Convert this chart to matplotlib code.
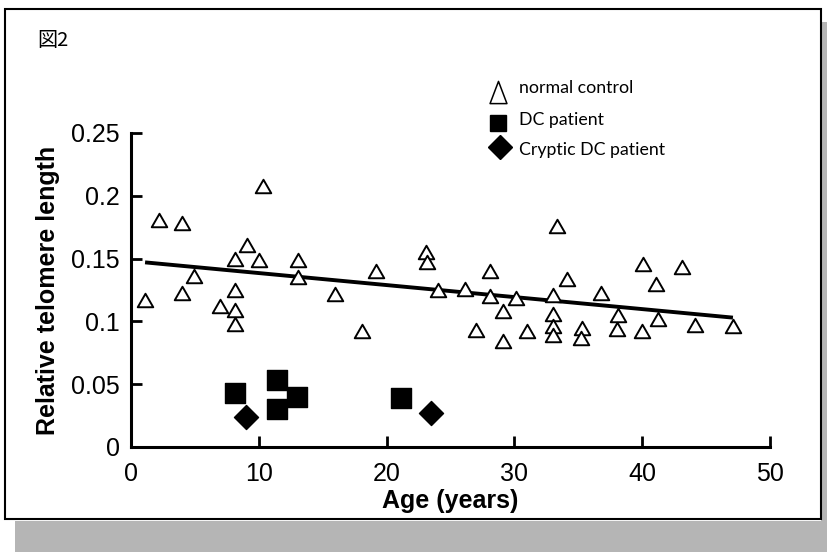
import matplotlib
matplotlib.use("Agg")
import matplotlib.pyplot as plt
from matplotlib.lines import Line2D
from matplotlib.patches import Rectangle
from matplotlib.path import Path
from matplotlib import font_manager

names = {f.name for f in font_manager.fontManager.ttflist}
NARROW = "Liberation Sans Narrow" if "Liberation Sans Narrow" in names else "Liberation Sans"
LEG = "Lato"

# ---- data ----
control_age = [1.1, 2.2, 4.0, 4.0, 4.9, 7.0, 8.1, 8.1, 8.1, 8.1, 9.1, 10.0, 10.3,
               13.1, 13.1, 16.0, 18.1, 19.2,
               23.1, 23.2, 24.0, 26.1, 27.0, 28.1, 28.1, 30.1, 29.1, 29.1, 31.0,
               33.3, 33.0, 33.0, 33.0, 33.0, 34.1, 35.3, 35.2, 36.8, 38.1, 38.0,
               40.1, 40.0, 41.1, 41.2, 43.1, 44.1, 47.1]
control_rtl = [0.117, 0.181, 0.178, 0.123, 0.136, 0.112, 0.150, 0.125, 0.109, 0.098,
               0.161, 0.149, 0.208, 0.149, 0.135, 0.122, 0.092, 0.140,
               0.155, 0.147, 0.125, 0.126, 0.093, 0.140, 0.120, 0.119, 0.108, 0.084,
               0.092, 0.176, 0.121, 0.106, 0.096, 0.089, 0.134, 0.095, 0.087, 0.123,
               0.105, 0.094, 0.146, 0.092, 0.130, 0.102, 0.143, 0.097, 0.096]
dc_age = [8.1, 11.4, 11.4, 13.0, 21.1]
dc_rtl = [0.043, 0.053, 0.030, 0.040, 0.039]
cryptic_age = [9.0, 23.5]
cryptic_rtl = [0.024, 0.027]
trend_age = [1.1, 47.1]
trend_rtl = [0.147, 0.103]

xticks = [0, 10, 20, 30, 40, 50]
yticks = [0, 0.05, 0.1, 0.15, 0.2, 0.25]
ytick_labels = ["0", "0.05", "0.1", "0.15", "0.2", "0.25"]
legend_labels = ["normal control", "DC patient", "Cryptic DC patient"]

W, H = 827, 552
fig = plt.figure(figsize=(W / 100, H / 100), dpi=100)


def fx(px):
    return px / W


def fy(py):
    return 1 - py / H


# frame and shadow
fig.patches.append(Rectangle((fx(15), fy(552)), fx(812), 31 / H, transform=fig.transFigure,
                             facecolor="#b5b5b5", edgecolor="none", zorder=0))
fig.patches.append(Rectangle((fx(821), fy(552)), fx(6), 530 / H, transform=fig.transFigure,
                             facecolor="#b5b5b5", edgecolor="none", zorder=0))
fig.patches.append(Rectangle((fx(5), fy(519)), fx(816), 510 / H, transform=fig.transFigure,
                             facecolor="white", edgecolor="black", linewidth=1.5, zorder=1))

ax = fig.add_axes([fx(131), fy(447), fx(770 - 131), (447 - 133) / H])
ax.set_facecolor("none")
ax.set_zorder(2)

tri = Path([(0, 0.87), (-1, -0.87), (1, -0.87), (0, 0.87)],
           [Path.MOVETO, Path.LINETO, Path.LINETO, Path.CLOSEPOLY])

ax.plot(trend_age, trend_rtl, color="black", linewidth=2.8, solid_capstyle="butt", zorder=2)
ax.scatter(control_age, control_rtl, marker=tri, s=125, facecolors="white",
           edgecolors="black", linewidths=1.4, zorder=3)
ax.scatter(dc_age, dc_rtl, marker="s", s=196, color="black", zorder=3)
ax.scatter(cryptic_age, cryptic_rtl, marker="D", s=150, color="black", zorder=3)

ax.set_xlim(0, 50)
ax.set_ylim(0, 0.25)
ax.set_xticks(xticks)
ax.set_xticklabels([str(t) for t in xticks])
ax.set_yticks(yticks)
ax.set_yticklabels(ytick_labels)
for s in ["top", "right"]:
    ax.spines[s].set_visible(False)
for s in ["left", "bottom"]:
    ax.spines[s].set_linewidth(2.2)
ax.tick_params(direction="in", length=8, width=2, labelsize=18)
ax.tick_params(axis="x", pad=11)
ax.tick_params(axis="y", pad=8)
for lab in ax.get_xticklabels() + ax.get_yticklabels():
    lab.set_fontfamily(NARROW)

ax.set_xlabel("Age (years)", fontsize=18, fontweight="bold", family=NARROW, labelpad=2)
ax.set_ylabel("Relative telomere length", fontsize=18, fontweight="bold", family=NARROW,
              labelpad=8)

fig.text(fx(37), fy(41), "図2", fontsize=14.5, family=["Noto Sans CJK JP", "DejaVu Sans"],
         va="center", ha="left", zorder=5)

# manual legend
leg_tri = Path([(0, 1), (-0.76, -1), (0.76, -1), (0, 1)],
               [Path.MOVETO, Path.LINETO, Path.LINETO, Path.CLOSEPOLY])
leg_markers = [
    dict(marker=leg_tri, markersize=16, markerfacecolor="white", markeredgecolor="black",
         markeredgewidth=1.1),
    dict(marker="s", markersize=11, markerfacecolor="black", markeredgecolor="black"),
    dict(marker="D", markersize=12.5, markerfacecolor="black", markeredgecolor="black"),
]
marker_pos = [(498, 92), (497.5, 122.5), (499.5, 146.5)]
text_y = [88, 120, 150]
for lab, mk, (mx, my), ty in zip(legend_labels, leg_markers, marker_pos, text_y):
    fig.add_artist(Line2D([fx(mx)], [fy(my)], transform=fig.transFigure, linestyle="none",
                          zorder=5, **mk))
    fig.text(fx(519), fy(ty), lab, fontsize=12.8, family=LEG, va="center", ha="left",
             zorder=5)

fig.savefig("out.png", dpi=100)
